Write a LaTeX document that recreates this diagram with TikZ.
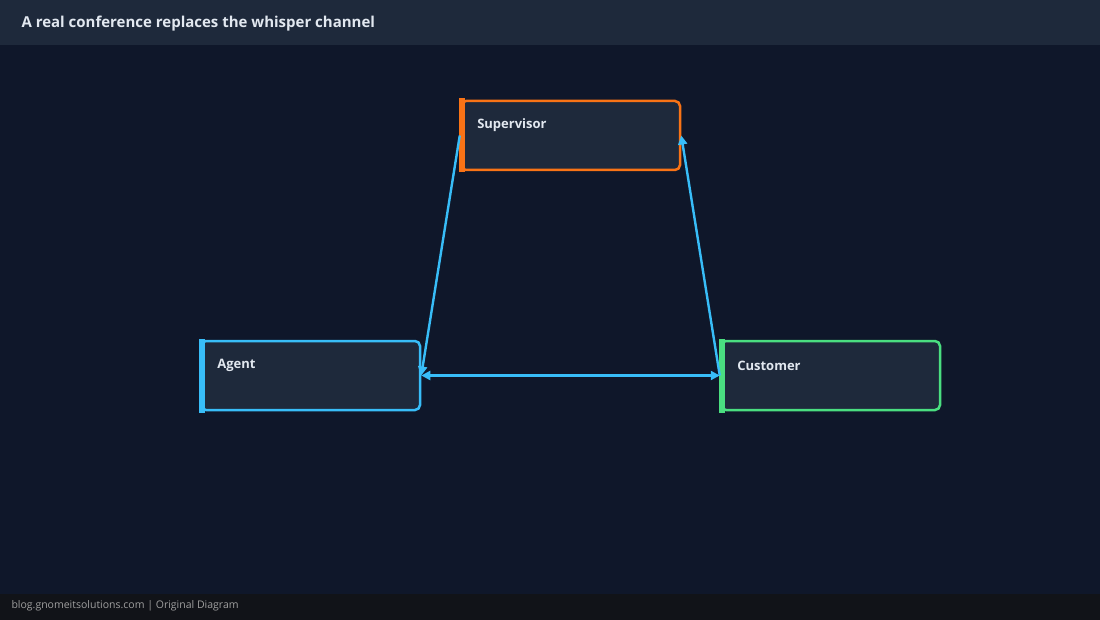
\documentclass[tikz,border=0pt]{standalone}
\usepackage{fontspec}
\setmainfont{Open Sans}
\usetikzlibrary{arrows.meta}
\definecolor{bg}{HTML}{0F172A}
\definecolor{bar}{HTML}{1E293B}
\definecolor{foot}{HTML}{111318}
\definecolor{boxf}{HTML}{1E293B}
\definecolor{blu}{HTML}{38BDF8}
\definecolor{org}{HTML}{F97316}
\definecolor{grn}{HTML}{4ADE80}
\definecolor{txt}{HTML}{E2E8F0}
\begin{document}
\begin{tikzpicture}[x=1pt,y=-1pt,
  box/.style={draw=#1,line width=2.5pt,fill=boxf,minimum width=219pt,minimum height=69pt,inner sep=0pt,
     rounded corners=5pt},
  lbl/.style={text=txt,font=\bfseries\fontsize{13}{15}\selectfont,anchor=west},
  conn/.style={draw=blu,line width=2.4pt,-{Triangle[length=9pt,width=9pt]}}]
\fill[bg] (0,0) rectangle (1100,620);
\useasboundingbox (0,0) rectangle (1100,620);
\fill[bar] (0,0) rectangle (1100,45);
\fill[foot] (0,594) rectangle (1100,620);
\node[text=txt,font=\bfseries\fontsize{15}{17}\selectfont,anchor=west] (title) at (18,24) {A real conference replaces the whisper channel};
\node[text=gray!75,font=\fontsize{10.5}{12}\selectfont,anchor=west] (foot) at (8,606) {blog.gnomeitsolutions.com | Original Diagram};
\foreach \n/\c/\x/\y/\t in {sup/org/570.5/135.5/Supervisor, ag/blu/310.5/375.5/Agent, cu/grn/830.5/375.5/Customer}{
  \node[box=\c] (\n) at (\x,\y) {};
  \fill[\c] ([xshift=-1.25pt,yshift=1.25pt]\n.north west) rectangle ([xshift=5pt,yshift=-1.25pt]\n.south west);
  \node[lbl] (\n-l) at ([xshift=14pt,yshift=10pt]\n.west) {\t};
}
\draw[conn] (sup.west) -- (ag.east);
\draw[conn] (cu.west) -- (sup.east);
\draw[conn,{Triangle[length=9pt,width=9pt]}-{Triangle[length=9pt,width=9pt]}] (ag.east) -- (cu.west);
\end{tikzpicture}
\end{document}
